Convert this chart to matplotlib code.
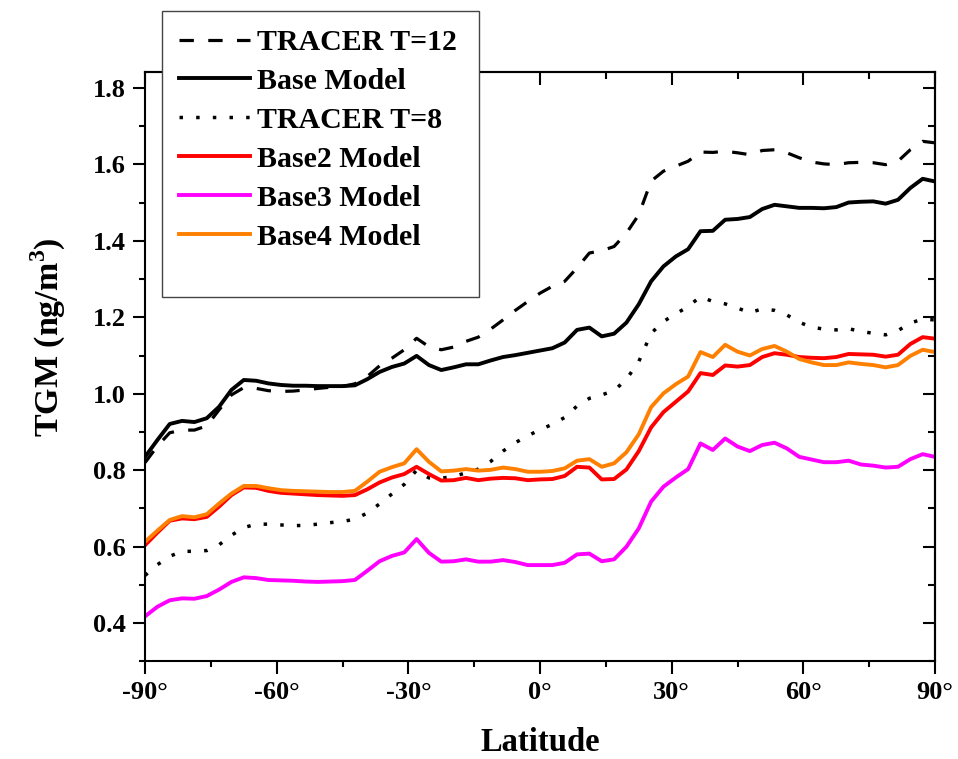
import numpy as np
import matplotlib
matplotlib.use("Agg")
import matplotlib.pyplot as plt
from matplotlib.patches import Rectangle

plt.rcParams['font.family'] = ['Liberation Serif', 'DejaVu Serif']
plt.rcParams['font.weight'] = 'bold'
plt.rcParams['mathtext.fontset'] = 'custom'
plt.rcParams['mathtext.rm'] = 'Liberation Serif:bold'
plt.rcParams['mathtext.bf'] = 'Liberation Serif:bold'

# model latitude grid (2.8125 deg, pole to pole)
lat = np.linspace(-90, 90, 65)

tracer_t12 = [0.820, 0.863, 0.898, 0.905, 0.905, 0.916, 0.958, 0.997, 1.016, 1.014,
              1.008, 1.006, 1.007, 1.010, 1.014, 1.017, 1.019, 1.026, 1.045, 1.073,
              1.093, 1.115, 1.145, 1.123, 1.115, 1.122, 1.137, 1.148, 1.169, 1.193,
              1.218, 1.241, 1.263, 1.281, 1.294, 1.329, 1.368, 1.374, 1.385, 1.420,
              1.468, 1.556, 1.582, 1.595, 1.608, 1.632, 1.631, 1.634, 1.630, 1.625,
              1.636, 1.638, 1.630, 1.617, 1.606, 1.601, 1.599, 1.604, 1.605, 1.604,
              1.599, 1.608, 1.638, 1.660, 1.656]

base = [0.835, 0.879, 0.921, 0.929, 0.926, 0.936, 0.966, 1.010, 1.036, 1.034,
        1.027, 1.023, 1.021, 1.021, 1.020, 1.020, 1.020, 1.022, 1.038, 1.057,
        1.070, 1.079, 1.099, 1.075, 1.062, 1.069, 1.077, 1.077, 1.087, 1.096,
        1.101, 1.107, 1.113, 1.119, 1.134, 1.167, 1.173, 1.150, 1.157, 1.186,
        1.234, 1.294, 1.333, 1.359, 1.378, 1.425, 1.426, 1.455, 1.457, 1.462,
        1.483, 1.494, 1.490, 1.486, 1.486, 1.485, 1.488, 1.500, 1.502, 1.503,
        1.497, 1.507, 1.538, 1.562, 1.555]

tracer_t8 = [0.525, 0.553, 0.575, 0.588, 0.588, 0.590, 0.605, 0.630, 0.650, 0.659,
             0.659, 0.657, 0.655, 0.656, 0.659, 0.663, 0.666, 0.672, 0.688, 0.712,
             0.738, 0.763, 0.800, 0.780, 0.779, 0.784, 0.793, 0.803, 0.823, 0.850,
             0.872, 0.890, 0.906, 0.920, 0.938, 0.968, 0.988, 0.997, 1.008, 1.038,
             1.084, 1.158, 1.189, 1.209, 1.228, 1.254, 1.241, 1.235, 1.224, 1.212,
             1.222, 1.218, 1.206, 1.187, 1.174, 1.169, 1.167, 1.170, 1.163, 1.158,
             1.154, 1.165, 1.185, 1.195, 1.193]

base2 = [0.604, 0.637, 0.668, 0.674, 0.672, 0.678, 0.705, 0.735, 0.755, 0.754,
         0.746, 0.741, 0.739, 0.737, 0.735, 0.734, 0.733, 0.735, 0.750, 0.768,
         0.781, 0.790, 0.809, 0.790, 0.773, 0.774, 0.780, 0.774, 0.778, 0.780,
         0.779, 0.774, 0.776, 0.777, 0.785, 0.809, 0.807, 0.776, 0.777, 0.802,
         0.850, 0.912, 0.952, 0.979, 1.006, 1.054, 1.049, 1.074, 1.071, 1.075,
         1.096, 1.106, 1.102, 1.096, 1.094, 1.093, 1.096, 1.104, 1.103, 1.102,
         1.097, 1.102, 1.130, 1.148, 1.144]

base3 = [0.418, 0.443, 0.460, 0.465, 0.464, 0.471, 0.488, 0.508, 0.520, 0.518,
         0.513, 0.512, 0.511, 0.509, 0.508, 0.509, 0.510, 0.513, 0.537, 0.562,
         0.576, 0.585, 0.620, 0.584, 0.561, 0.562, 0.567, 0.561, 0.561, 0.565,
         0.560, 0.552, 0.552, 0.552, 0.558, 0.580, 0.582, 0.562, 0.567, 0.600,
         0.648, 0.718, 0.757, 0.781, 0.803, 0.870, 0.853, 0.883, 0.862, 0.850,
         0.866, 0.872, 0.857, 0.835, 0.828, 0.821, 0.821, 0.825, 0.815, 0.812,
         0.807, 0.809, 0.829, 0.842, 0.835]

base4 = [0.613, 0.642, 0.670, 0.680, 0.677, 0.685, 0.713, 0.739, 0.759, 0.759,
         0.753, 0.748, 0.746, 0.745, 0.744, 0.743, 0.743, 0.746, 0.770, 0.796,
         0.808, 0.818, 0.855, 0.822, 0.797, 0.799, 0.803, 0.799, 0.801, 0.807,
         0.803, 0.796, 0.796, 0.798, 0.805, 0.825, 0.829, 0.809, 0.818, 0.847,
         0.894, 0.965, 1.001, 1.025, 1.045, 1.109, 1.096, 1.128, 1.110, 1.100,
         1.117, 1.125, 1.110, 1.091, 1.082, 1.075, 1.075, 1.082, 1.078, 1.075,
         1.069, 1.075, 1.099, 1.115, 1.109]

x_ticks = [-90, -60, -30, 0, 30, 60, 90]
x_ticklabels = ["-90°", "-60°", "-30°", "0°", "30°", "60°", "90°"]
y_ticks = [0.4, 0.6, 0.8, 1.0, 1.2, 1.4, 1.6, 1.8]


fig = plt.figure(figsize=(9.58, 7.59), dpi=100)
ax = fig.add_axes([0.1514, 0.1285, 0.8246, 0.776])

ax.plot(lat, tracer_t12, color="black", lw=2.3, dashes=(4.5, 4.5), label="TRACER T=12")
ax.plot(lat, base, color="black", lw=2.8, label="Base Model")
ax.plot(lat, tracer_t8, color="black", lw=2.5, dashes=(1, 3.8), label="TRACER T=8")
ax.plot(lat, base2, color="#ff0000", lw=2.8, label="Base2 Model")
ax.plot(lat, base3, color="#ff00ff", lw=2.8, label="Base3 Model")
ax.plot(lat, base4, color="#ff8000", lw=2.8, label="Base4 Model")

ax.set_xlim(-90, 90)
ax.set_ylim(0.3, 1.84)
ax.set_xticks(x_ticks)
ax.set_xticklabels(x_ticklabels)
ax.set_xticks(np.arange(-75, 90, 30), minor=True)
ax.set_yticks(y_ticks)
ax.set_yticklabels([f"{v:.1f}" for v in y_ticks])
ax.set_yticks(np.arange(0.3, 1.85, 0.2), minor=True)

for s in ax.spines.values():
    s.set_linewidth(1.5)
ax.tick_params(which="major", direction="out", length=9, width=1.5, labelsize=19)
ax.tick_params(which="minor", direction="out", length=4.5, width=1.5)
ax.tick_params(axis="x", which="major", pad=5)
ax.tick_params(axis="y", which="major", pad=5)

# inward ticks on top and right, like the original
top = ax.secondary_xaxis("top")
top.set_xticks(x_ticks)
top.set_xticks(np.arange(-75, 90, 30), minor=True)
right = ax.secondary_yaxis("right")
right.set_yticks(y_ticks)
right.set_yticks(np.arange(0.3, 1.85, 0.2), minor=True)
for sec in (top, right):
    for s in sec.spines.values():
        s.set_linewidth(1.5)
    sec.tick_params(which="major", direction="in", length=9, width=1.5)
    sec.tick_params(which="minor", direction="in", length=5, width=1.5)
top.tick_params(labeltop=False)
right.tick_params(labelright=False)

ax.set_xlabel("Latitude", fontsize=23.5, fontweight="bold")
ax.xaxis.set_label_coords(0.5, -0.111)
ax.set_ylabel(r"TGM (ng/m$^\mathbf{3}$)", fontsize=24.5, fontweight="bold")
ax.yaxis.set_label_coords(-0.097, 0.55)

# legend sits in its own box that runs above the axes
fig.add_artist(Rectangle((162 / 958, 1 - 297 / 759), 317 / 958, 286 / 759,
                         transform=fig.transFigure, facecolor="white",
                         edgecolor="#444444", lw=1.0, zorder=3))
handles, labels = ax.get_legend_handles_labels()
fig.legend(handles, labels, loc="upper left", bbox_to_anchor=(0.1868, 0.9618),
           frameon=False, fontsize=21.5, handlelength=2.37, handletextpad=0.23,
           labelspacing=0.40, borderpad=0, borderaxespad=0)

fig.savefig("out.png", dpi=100)
